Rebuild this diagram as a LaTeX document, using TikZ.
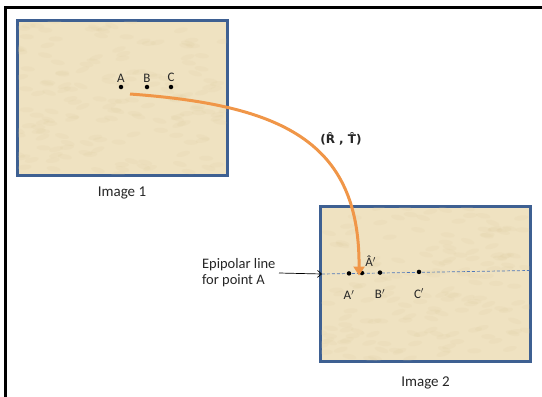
\documentclass[tikz,border=0pt]{standalone}
\usepackage{fontspec}
\setmainfont{Carlito}
\newfontfamily\djv{DejaVu Sans}
\usetikzlibrary{arrows.meta,positioning,calc}
\definecolor{parch}{RGB}{239,226,193}
\definecolor{parchdark}{RGB}{222,204,160}
\definecolor{frameblue}{RGB}{62,96,146}
\definecolor{arrorange}{RGB}{240,150,72}
\definecolor{lineblue}{RGB}{80,120,185}

\begin{document}
\begin{tikzpicture}[x=1pt, y=-1pt,
  img/.style = {draw=frameblue, line width=2pt, fill=parch, minimum width=209pt, minimum height=154pt, inner sep=0pt},
  pt/.style = {circle, fill=black, inner sep=0pt, minimum size=4.5pt},
  lbl/.style = {font=\fontsize{13}{15}\selectfont, text=black!85},
  caption/.style = {font=\fontsize{15}{18}\selectfont, text=black!85},
  arrow/.style = {line width=3pt, arrorange, -{Triangle[length=9pt, width=11pt]}}
  ]
\useasboundingbox (0,0) rectangle (542,397);

% outer frame
\draw[line width=3pt] (5,397) -- (5,7) -- (542,7);

% images
\node[img] (img1) at (122,98) {};
\node[img] (img2) at (425.5,283.5) {};
% paper texture
\pgfmathsetseed{7}
\foreach \im in {img1,img2}{
  \begin{scope}
    \clip ([shift={(1pt,-1pt)}]\im.north west) rectangle ([shift={(-1pt,1pt)}]\im.south east);
    \foreach \k in {1,...,160}
      \fill[parchdark, opacity=0.15, shift={($(\im.north west)+(rnd*209,rnd*154)$)}, rotate=rnd*40-20]
        (0,0) ellipse (7 and 2.5);
  \end{scope}
  \draw[frameblue, line width=2pt] (\im.north west) rectangle (\im.south east);
}
\node[caption, below=7pt of img1] (cap1) {Image 1};
\node[caption, below=12pt of img2] (cap2) {Image 2};

% points in image 1
\node[pt, label={[lbl, yshift=-1pt]above:A}] (a) at (121,87) {};
\node[pt, label={[lbl, yshift=-1pt]above:B}] (b) at (147,87) {};
\node[pt, label={[lbl, yshift=-1pt]above:C}] (c) at (171,87) {};

% epipolar line in image 2
\coordinate (el) at (322,274);
\coordinate (er) at (529,270.5);
\draw[lineblue, densely dashed, line width=0.7pt] (el) -- (er);
\node[pt, label={[lbl, yshift=-11pt]below:A$'$}] (a2) at (349,273.4) {};
\node[pt, label={[lbl, yshift=1pt, xshift=-2pt]above right:\^A$'$}] (ah) at (362,273) {};
\node[pt, label={[lbl, yshift=-11pt]below:B$'$}] (b2) at (380,272.6) {};
\node[pt, label={[lbl, yshift=-11pt]below:C$'$}] (c2) at (419,271.9) {};

% epipolar label
\node[lbl, align=left, font=\fontsize{14.5}{16}\selectfont, anchor=east] (epi) at (279,273) {Epipolar line\\for point A};
\draw[-{Straight Barb[length=4pt, width=7pt]}, line width=0.7pt] (epi.east) -- (el);

% transformation arrow
\coordinate (start) at (130,94);
\draw[arrow] (start) .. controls (280,105) and (360,140) .. ([xshift=-3pt, yshift=-5pt]ah.north);
\node[font=\djv\fontsize{12}{14}\selectfont\bfseries, text=black!85] (rt) at (341,139) {(R̂ , T̂)};
\end{tikzpicture}
\end{document}
